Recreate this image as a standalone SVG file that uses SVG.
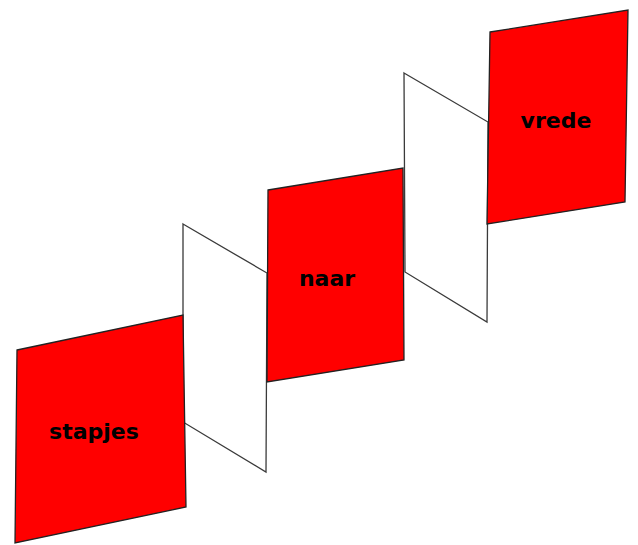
<svg xmlns="http://www.w3.org/2000/svg" width="638" height="545" viewBox="0 0 638 545">
<style>
.w{fill:#ffffff;stroke:#3a3a3a;stroke-width:1.3;stroke-linejoin:miter}
.r{fill:#ff0000;stroke:#222222;stroke-width:1.3;stroke-linejoin:miter}
.t{font-family:"DejaVu Sans",Verdana,sans-serif;font-weight:bold;font-size:22px;fill:#000000;text-anchor:middle}
</style>
<rect width="638" height="545" fill="#ffffff"/>
<g id="white1"><polygon class="w" points="183,224 267,273 266,472 183,422"/></g>
<g id="white2"><polygon class="w" points="404,73 488,122 487,322 405,272"/></g>
<g id="stapjes"><polygon class="r" points="17,350 183,315 186,507 15,543"/><text class="t" x="94" y="439">stapjes</text></g>
<g id="naar"><polygon class="r" points="268,190 403,168 404,360 267,382"/><text class="t" x="327" y="286">naar</text></g>
<g id="vrede"><polygon class="r" points="490,32 628,10 625,202 487,224"/><text class="t" x="556" y="128">vrede</text></g>
<g id="connectors"></g>
</svg>
